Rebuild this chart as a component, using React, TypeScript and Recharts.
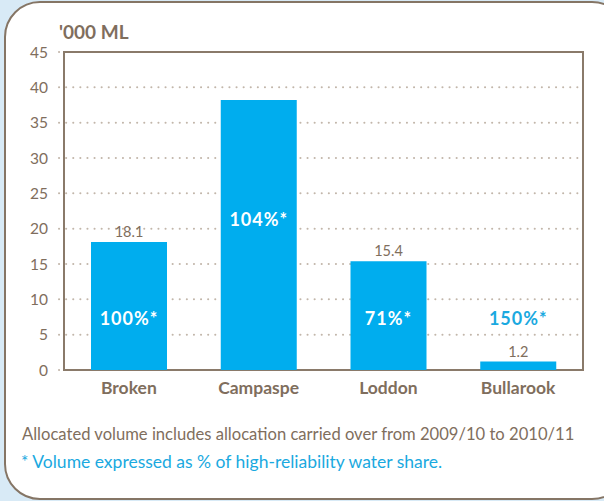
import { BarChart, Bar, XAxis, YAxis, CartesianGrid, LabelList, ReferenceArea } from "recharts";

const categories = ["Broken", "Campaspe", "Loddon", "Bullarook"];
const volumes = [18.1, 38.2, 15.4, 1.2];
const volumeLabels = ["18.1", "", "15.4", "1.2"];
const shares = ["100%*", "104%*", "71%*", "150%*"];
const yTicks = [0, 5, 10, 15, 20, 25, 30, 35, 40, 45];

const data = categories.map((name, i) => ({
  name,
  volume: volumes[i],
  volumeLabel: volumeLabels[i],
  share: shares[i],
}));

const BROWN = "#7f6e5d";
const BLUE = "#00adee";
const FONT = "Lato, 'Open Sans', sans-serif";

const ShareLabel = (props: any) => {
  const { x, y, width, height, index } = props;
  const bottom = y + height;
  // tall bar keeps label near its top, others sit at a fixed height from the base
  const ty = height > 200 ? y + 126 : bottom - 45;
  const inside = height > 60;
  return (
    <text
      x={x + width / 2}
      y={ty}
      textAnchor="middle"
      fill={inside ? "#ffffff" : "#1aa9e0"}
      fontFamily={FONT}
      fontWeight={700}
      fontSize={18}
      letterSpacing={1}
    >
      {shares[index]}
    </text>
  );
};

export default function App() {
  return (
    <div style={{ position: "absolute", left: 0, top: 0, width: 604, height: 501, background: "#d8eaf6", overflow: "hidden" }}>
      <div
        style={{
          position: "absolute",
          left: 4,
          top: 1,
          width: 620,
          height: 495,
          background: "#fff",
          border: "2px solid #857565",
          borderRadius: 36,
        }}
      />
      <div style={{ position: "absolute", left: 59, top: 20, fontFamily: FONT, fontWeight: 700, fontSize: 19, color: BROWN }}>
        '000 ML
      </div>
      <div style={{ position: "absolute", left: 0, top: 0 }}>
        <BarChart width={604} height={501} data={data} margin={{ top: 52, right: 21, bottom: 101, left: 0 }}>
          <CartesianGrid
            vertical={false}
            stroke="#c2b6aa"
            strokeWidth={2}
            strokeDasharray="0.1 7"
            strokeLinecap="round"
          />
          <XAxis
            dataKey="name"
            axisLine={false}
            tickLine={false}
            tickSize={0}
            tickMargin={12}
            height={30}
            padding={{ left: 5, right: 0 }}
            tick={{ fill: BROWN, fontFamily: FONT, fontWeight: 700, fontSize: 17.5 }}
          />
          <YAxis
            width={59}
            domain={[0, 45]}
            ticks={yTicks}
            axisLine={false}
            tickLine={false}
            tickSize={0}
            tickMargin={11}
            interval={0}
            tick={{ fill: BROWN, fontFamily: FONT, fontSize: 15.5 }}
          />
          <Bar dataKey="volume" fill={BLUE} barSize={76} isAnimationActive={false}>
            <LabelList dataKey="volumeLabel" position="top" offset={5} fill={BROWN} fontFamily={FONT} fontSize={14.5} />
            <LabelList dataKey="share" content={<ShareLabel />} />
          </Bar>
          <ReferenceArea y1={0} y2={45} fill="none" stroke="#8a7a6a" strokeWidth={2} ifOverflow="visible" />
        </BarChart>
      </div>
      <div style={{ position: "absolute", left: 22, top: 424, fontFamily: FONT, fontSize: 16.6, color: BROWN, whiteSpace: "nowrap" }}>
        Allocated volume includes allocation carried over from 2009/10 to 2010/11
      </div>
      <div style={{ position: "absolute", left: 21, top: 451, fontFamily: FONT, fontSize: 17.5, color: "#1aa9e0", whiteSpace: "nowrap" }}>
        * Volume expressed as % of high-reliability water share.
      </div>
    </div>
  );
}
